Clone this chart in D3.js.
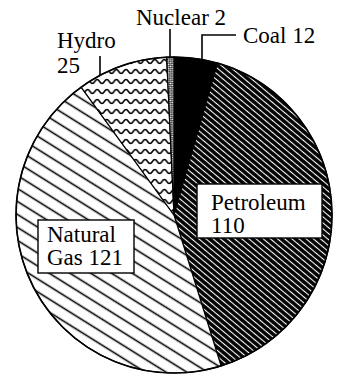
<!DOCTYPE html>
<html><head><meta charset="utf-8"><script src="https://cdn.jsdelivr.net/npm/d3@7"></script></head>
<body style="margin:0">
<svg id="chart" width="337" height="376" style="display:block"></svg>
<script>
// Energy sources, clockwise from 12 o'clock
const sources = ["Coal", "Petroleum", "Natural Gas", "Hydro", "Nuclear"];
const amounts = [12, 110, 121, 25, 2];
const fills   = ["solid", "petro", "gas", "hydro", "nuke"];

// Labels drawn on boxes inside the pie
const boxedLabels = ["Petroleum", "Natural Gas"];
const boxedLines  = [["Petroleum", "110"], ["Natural", "Gas 121"]];
// Labels outside the pie with leader lines
const outerLabels = ["Hydro", "Nuclear", "Coal"];
const outerLines  = [["Hydro", "25"], ["Nuclear 2"], ["Coal 12"]];

const cx = 174, cy = 215, R = 158;

const svg = d3.select("#chart");
const defs = svg.append("defs");

// Petroleum: dense white diagonals on black
const pPetro = defs.append("pattern").attr("id", "petro")
  .attr("patternUnits", "userSpaceOnUse").attr("width", 8).attr("height", 4.6)
  .attr("patternTransform", "rotate(40)");
pPetro.append("rect").attr("width", 8).attr("height", 4.6).attr("fill", "#000");
pPetro.append("line").attr("x1", 0).attr("x2", 8).attr("y1", 2.3).attr("y2", 2.3)
  .attr("stroke", "#fff").attr("stroke-width", 1.1);

// Natural gas: sparse black diagonals on white
const pGas = defs.append("pattern").attr("id", "gas")
  .attr("patternUnits", "userSpaceOnUse").attr("width", 10).attr("height", 11)
  .attr("patternTransform", "rotate(32)");
pGas.append("rect").attr("width", 10).attr("height", 11).attr("fill", "#fff");
pGas.append("line").attr("x1", 0).attr("x2", 10).attr("y1", 5.5).attr("y2", 5.5)
  .attr("stroke", "#000").attr("stroke-width", 1.6);

// Hydro: horizontal wavy lines
const pHydro = defs.append("pattern").attr("id", "hydro")
  .attr("patternUnits", "userSpaceOnUse").attr("width", 9.6).attr("height", 10);
pHydro.append("rect").attr("width", 9.6).attr("height", 10).attr("fill", "#fff");
pHydro.append("path")
  .attr("d", "M-2.4,6.5 Q0,2.5 2.4,6.5 T7.2,6.5 T12,6.5")
  .attr("fill", "none").attr("stroke", "#000").attr("stroke-width", 1.5);

// Nuclear: fine checker
const pNuke = defs.append("pattern").attr("id", "nuke")
  .attr("patternUnits", "userSpaceOnUse").attr("width", 3).attr("height", 3)
  .attr("patternTransform", "rotate(45)");
pNuke.append("rect").attr("width", 3).attr("height", 3).attr("fill", "#fff");
pNuke.append("rect").attr("width", 1.5).attr("height", 1.5).attr("fill", "#000");
pNuke.append("rect").attr("x", 1.5).attr("y", 1.5).attr("width", 1.5).attr("height", 1.5).attr("fill", "#000");

const data = sources.map((s, i) => ({ name: s, value: amounts[i], fill: fills[i] }));

const pie = d3.pie().value(d => d.value).sort(null).startAngle(0).endAngle(2 * Math.PI);
const arc = d3.arc().innerRadius(0).outerRadius(R);
const arcs = pie(data);

const g = svg.append("g").attr("transform", `translate(${cx},${cy})`);

g.selectAll("path.slice").data(arcs).enter().append("path")
  .attr("class", "slice")
  .attr("d", arc)
  .attr("fill", d => d.data.fill === "solid" ? "#000" : `url(#${d.data.fill})`)
  .attr("stroke", "#000").attr("stroke-width", 1.2);

g.append("circle").attr("r", R).attr("fill", "none")
  .attr("stroke", "#000").attr("stroke-width", 1.6);

// Collected label lines, drawn together at the end
const textItems = [];

// Boxed labels
const boxLayout = {
  "Petroleum":   { x: 197, y: 184, w: 125, h: 54, tx: 211, b1: 210, lh: 23 },
  "Natural Gas": { x: 38,  y: 220, w: 96,  h: 53, tx: 47,  b1: 242, lh: 23 }
};
boxedLabels.forEach((name, i) => {
  const L = boxLayout[name];
  svg.append("rect").attr("x", L.x).attr("y", L.y).attr("width", L.w).attr("height", L.h)
    .attr("fill", "#fff").attr("stroke", "#000").attr("stroke-width", 1.4);
  boxedLines[i].forEach((t, j) => textItems.push({ x: L.tx, y: L.b1 + j * L.lh, t }));
});

// Outer labels with leader lines that land on the pie rim
const rimY = x => cy - Math.sqrt(R * R - (x - cx) * (x - cx));
const outerLayout = {
  "Hydro":   { tx: 57,  b1: 48, lh: 25, lx: 100, ly: 56, elbow: null },
  "Nuclear": { tx: 136, b1: 25, lh: 0,  lx: 170, ly: 29, elbow: null },
  "Coal":    { tx: 243, b1: 43, lh: 0,  lx: 202, ly: 35, elbow: 236 }
};
outerLabels.forEach((name, i) => {
  const L = outerLayout[name];
  outerLines[i].forEach((t, j) => textItems.push({ x: L.tx, y: L.b1 + j * L.lh, t }));
  const pts = [];
  if (L.elbow) pts.push([L.elbow, L.ly]);
  pts.push([L.lx, L.ly]);
  pts.push([L.lx, rimY(L.lx)]);
  svg.append("path").attr("d", d3.line()(pts))
    .attr("fill", "none").attr("stroke", "#000").attr("stroke-width", 1.6);
});

svg.append("g").selectAll("text").data(textItems).enter().append("text")
  .attr("x", d => d.x).attr("y", d => d.y)
  .style("font-family", '"Liberation Serif"')
  .style("font-size", "23px")
  .attr("fill", "#000")
  .text(d => d.t);
</script>
</body>
</html>
